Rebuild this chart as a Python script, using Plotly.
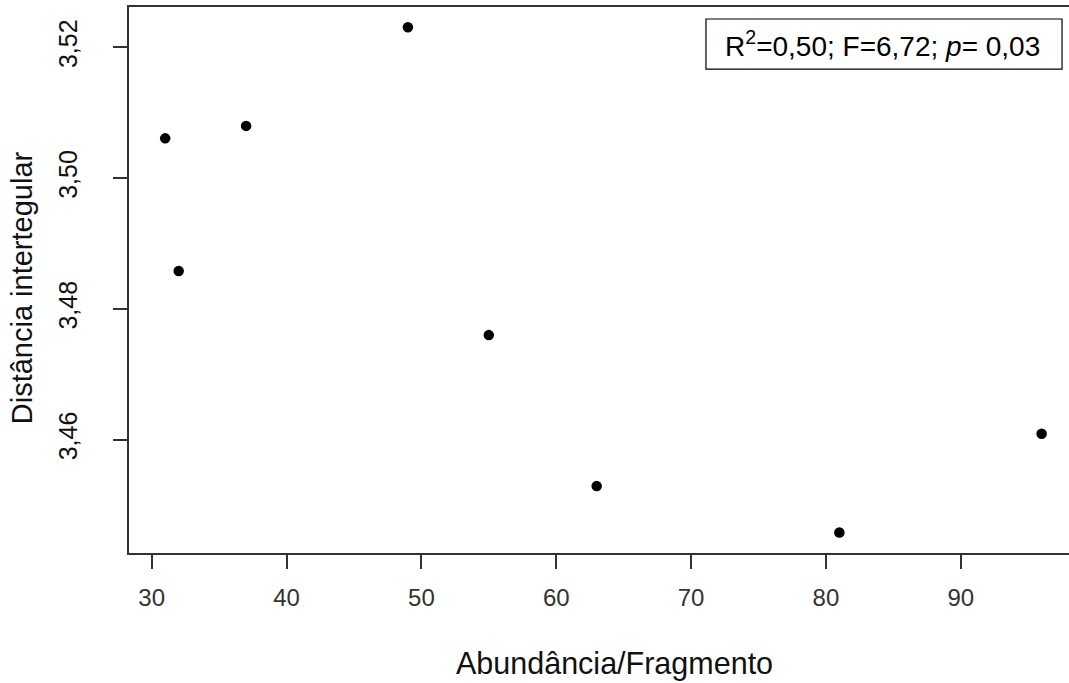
import plotly.graph_objects as go

# Abundance per fragment vs. intertegular distance
abundancia = [31, 32, 37, 49, 55, 63, 81, 96]
distancia = [3.5061, 3.4858, 3.5080, 3.5231, 3.4760, 3.4529, 3.4458, 3.4609]

x_ticks = [30, 40, 50, 60, 70, 80, 90]
x_ticktext = ["30", "40", "50", "60", "70", "80", "90"]
y_ticks = [3.46, 3.48, 3.50, 3.52]
y_ticktext = ["3,46", "3,48", "3,50", "3,52"]

stats_text = "R<sup>2</sup>=0,50; F=6,72; <i>p</i>= 0,03"

FONT = "Liberation Sans, Arial, sans-serif"

fig = go.Figure()
fig.add_trace(go.Scatter(
    x=abundancia, y=distancia, mode="markers",
    marker=dict(color="black", size=10.5, line=dict(width=0)),
    hoverinfo="x+y", showlegend=False,
))

fig.update_layout(
    width=1069, height=683,
    margin=dict(l=129, r=0, t=7, b=130),
    paper_bgcolor="white", plot_bgcolor="white",
    font=dict(family=FONT, color="#111"),
    xaxis=dict(
        range=[28.316, 98.03], showgrid=False, zeroline=False,
        showline=True, linecolor="#333", linewidth=2, mirror=True,
        ticks="outside", ticklen=14, tickwidth=1.5, tickcolor="#333",
        tickvals=x_ticks, ticktext=x_ticktext,
        tickfont=dict(size=24, color="#333", family=FONT),
        ticklabelstandoff=8,
    ),
    yaxis=dict(
        range=[3.44267, 3.52619], showgrid=False, zeroline=False,
        showline=True, linecolor="#333", linewidth=2, mirror=False,
        ticks="outside", ticklen=14, tickwidth=1.5, tickcolor="#333",
        tickvals=y_ticks, ticktext=y_ticktext, tickangle=-90,
        tickfont=dict(size=25, color="#111", family=FONT),
        ticklabelstandoff=26,
    ),
)

# Axis titles
fig.add_annotation(
    text="Abundância/Fragmento", xref="paper", yref="paper",
    x=0.517, y=-0.2015, xanchor="center", yanchor="middle",
    showarrow=False, font=dict(size=30.5, color="#111", family=FONT),
)
fig.add_annotation(
    text="Distância intertegular", xref="paper", yref="paper",
    x=-0.1138, y=0.485, xanchor="center", yanchor="middle", textangle=-90,
    showarrow=False, font=dict(size=29, color="#111", family=FONT),
)

# Regression statistics box
fig.add_shape(
    type="rect", xref="paper", yref="paper",
    x0=0.6138, x1=0.9926, y0=0.8864, y1=0.978,
    line=dict(color="black", width=1.2), fillcolor="white",
)
fig.add_annotation(
    text=stats_text, xref="paper", yref="paper",
    x=0.8016, y=0.9322, xanchor="center", yanchor="middle",
    showarrow=False, font=dict(size=28, color="black", family=FONT),
)

fig.write_html("out.html")
